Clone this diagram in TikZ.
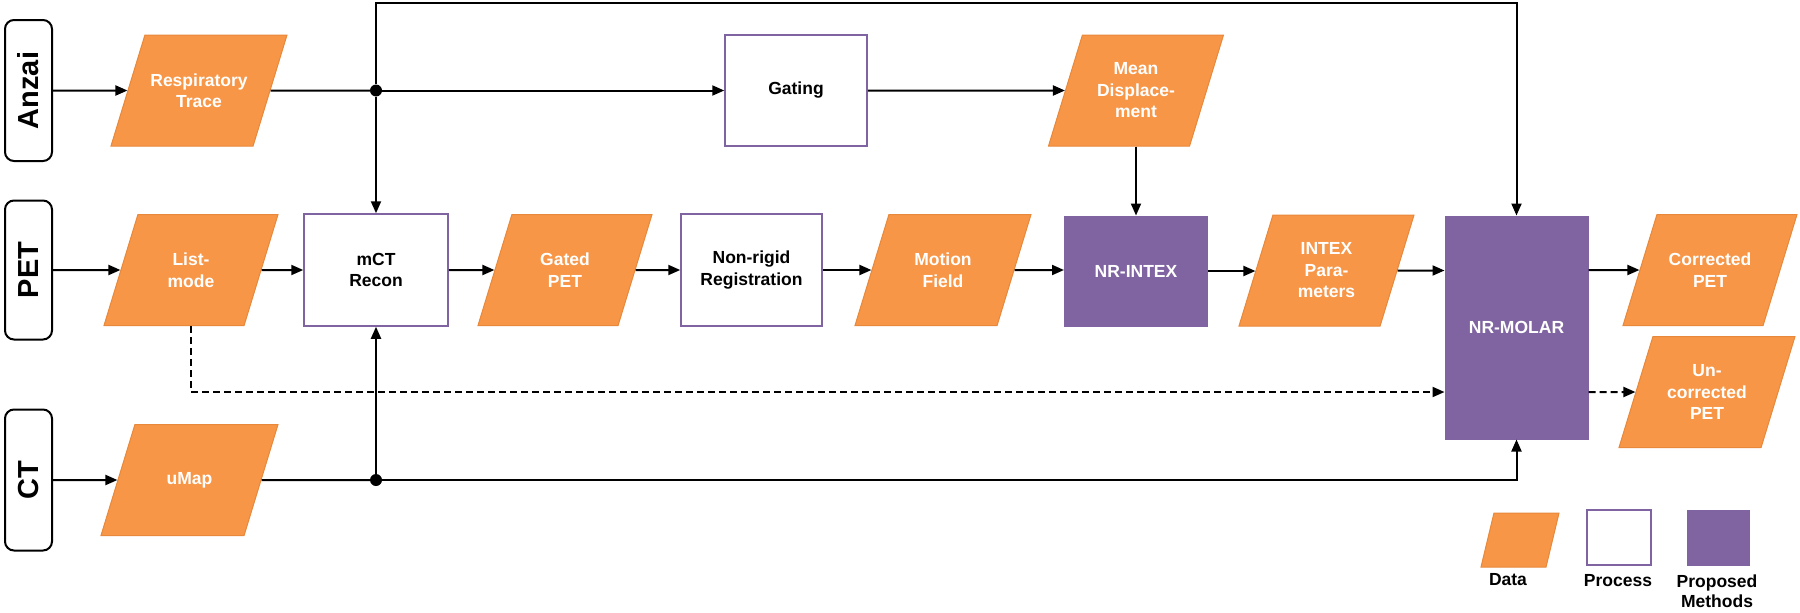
\documentclass[tikz,border=0pt]{standalone}
\usepackage{fontspec}
\setmainfont{Liberation Sans}
\usetikzlibrary{shapes.geometric,arrows.meta,calc}
\definecolor{dataor}{HTML}{F79646}
\definecolor{dataedge}{HTML}{E8883A}
\definecolor{propur}{HTML}{8064A2}
\begin{document}
\begin{tikzpicture}[x=1pt,y=-1pt,
  lbl/.style={font=\bfseries\fontsize{17.5}{21.5}\selectfont, align=center},
  data/.style={trapezium, trapezium left angle=73, trapezium right angle=107, trapezium stretches body, fill=dataor, draw=dataedge, line width=1pt, text=white, font=\bfseries\fontsize{17.5}{21.5}\selectfont, inner sep=0pt,
    execute at begin node={\begin{minipage}[c][111pt][c]{100pt}\centering},
    execute at end node={\end{minipage}}},
  legdata/.style={trapezium, trapezium left angle=76.5, trapezium right angle=103.5, trapezium stretches body, fill=dataor, draw=dataedge, line width=1pt, inner xsep=0pt, inner ysep=27pt},
  proc/.style={rectangle, draw=propur, line width=1.5pt, fill=white, lbl, inner sep=0pt},
  prop/.style={rectangle, draw=propur, fill=propur, line width=1pt, lbl, text=white, inner sep=0pt},
  side/.style={rectangle, rounded corners=9pt, draw=black, line width=2pt, font=\bfseries\fontsize{29}{32}\selectfont},
  arr/.style={line width=2pt, -{Triangle[length=12pt,width=10pt]}},
  ln/.style={line width=2pt},
  dashline/.style={dash pattern=on 7pt off 4pt},
  dot/.style={circle, fill=black, inner sep=0pt, minimum size=12pt},
  leg/.style={font=\bfseries\fontsize{17.5}{20.5}\selectfont, align=center, text=black}
]
\useasboundingbox (0,0) rectangle (1800,613);

% side labels
\node[side, rotate=90, minimum width=141pt, minimum height=47pt] (anzai) at (28.5,90.5) {Anzai};
\node[side, rotate=90, minimum width=139pt, minimum height=47pt] (pet) at (28.5,270) {PET};
\node[side, rotate=90, minimum width=141pt, minimum height=47pt] (ct) at (28.5,480) {CT};

% data
\node[data, minimum width=176pt] (rt) at (199,90.5) {Respiratory\\Trace};
\node[data, minimum width=174pt] (lm) at (191,270) {List-\\mode};
\node[data, minimum width=177pt] (um) at (189.5,480) {uMap};
\node[data, minimum width=174pt] (gp) at (565,270) {Gated\\PET};
\node[data, minimum width=175pt] (md) at (1136,90.5) {Mean\\Displace-\\ment};
\node[data, minimum width=176pt] (mf) at (943,270) {Motion\\Field};
\node[data, minimum width=175pt] (ip) at (1326.5,270.5) {INTEX\\Para-\\meters};
\node[data, minimum width=174pt] (cp) at (1710,270) {Corrected\\PET};
\node[data, minimum width=176pt] (up) at (1707,392) {Un-\\corrected\\PET};

% processes
\node[proc, minimum width=144pt, minimum height=112pt] (mct) at (376,270) {mCT\\Recon};
\node[proc, minimum width=142pt, minimum height=111pt] (gat) at (796,90.5) {Gating};
\node[proc, minimum width=141pt, minimum height=112pt] (nrr) at (751.5,270) {Non-rigid\\Registration};
\node[prop, minimum width=143pt, minimum height=110pt] (nri) at (1136,271) {NR-INTEX};
\node[prop, minimum width=143pt, minimum height=223pt] (nrm) at (1516.5,327.5) {NR-MOLAR};

% junctions
\node[dot] (j1) at (376,90.5) {};
\node[dot] (j2) at (376,480) {};
\coordinate (tl) at (376,3);
\coordinate (dr) at (0,392);

% connectors
\draw[arr] (anzai) -- (rt);
\draw[ln] (rt) -- (j1);
\draw[arr] (j1) -- (gat);
\draw[arr] (gat) -- (md);
\draw[arr] (md) -- (nri);
\draw[arr] (j1) -- (mct);
\draw[arr] (j1) -- (tl) -| (nrm.north);

\draw[arr] (pet) -- (lm);
\draw[arr] (lm) -- (lm -| mct.west);
\draw[arr] (mct) -- (gp);
\draw[arr] (gp) -- (gp -| nrr.west);
\draw[arr] (nrr) -- (nrr -| mf.west);
\draw[arr] (mf) -- (mf -| nri.west);
\draw[arr] (nri) -- (nri -| ip.west);
\draw[arr] (ip) -- (ip -| nrm.west);
\draw[arr] (nrm.east |- cp) -- (cp);
\draw[arr, dashline] (nrm.east |- up) -- (up);
\draw[arr, dashline] (lm.south) |- (nrm.west |- dr);

\draw[arr] (ct) -- (um);
\draw[ln] (um) -- (j2);
\draw[arr] (j2) -- (mct);
\draw[arr] (j2) -| (nrm.south);

% legend
\node[legdata, minimum width=78pt] (ld) at (1520,540) {};
\node[proc, minimum width=64pt, minimum height=55pt] (lp) at (1619,537.5) {};
\node[prop, minimum width=62pt, minimum height=55pt] (lq) at (1718,537.5) {};
\node[leg] (ldt) at (1508,580) {Data};
\node[leg] (lpt) at (1618,581) {Process};
\node[leg] (lqt) at (1717,591) {Proposed\\Methods};
\end{tikzpicture}
\end{document}
